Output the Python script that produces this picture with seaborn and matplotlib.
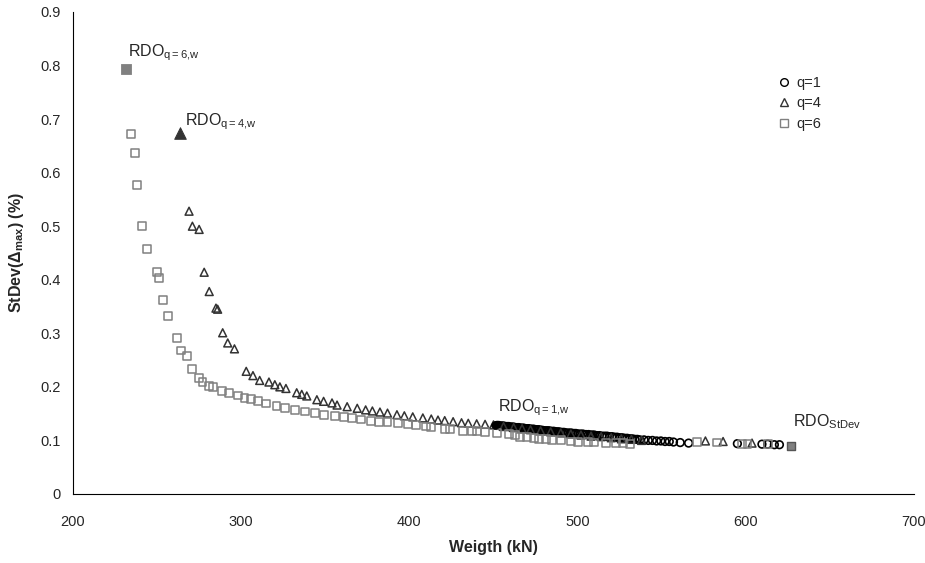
import matplotlib
matplotlib.use("Agg")
import matplotlib.pyplot as plt
from matplotlib.lines import Line2D
import seaborn as sns

# ---------------- data ----------------
q1_x = [452, 453, 454, 455, 456, 457, 458, 459, 460, 461, 462, 463, 464, 465,
        466, 467, 468, 469, 470, 471, 472, 473, 474, 475, 476, 477, 478, 479,
        480, 481, 482, 483, 484, 485, 486, 487, 488, 489, 490, 491, 492, 493,
        494.5, 496, 497, 498, 499, 500, 501.5, 503, 504, 505, 506.5, 508, 509,
        510, 511.5, 513, 514.5, 516, 517.5, 519, 520.5, 522, 523.5, 525, 526.5,
        528, 529.5, 531, 532.5, 534, 535.5, 537, 539.5, 542, 544.5, 547, 549.5,
        552, 554.5, 557, 561, 566, 595, 609.6, 613, 617, 620]
q1_y = [0.128, 0.128, 0.127, 0.127, 0.127, 0.126, 0.126, 0.126, 0.125, 0.125,
        0.125, 0.124, 0.124, 0.124, 0.123, 0.123, 0.123, 0.122, 0.122, 0.122,
        0.121, 0.121, 0.121, 0.120, 0.120, 0.120, 0.119, 0.119, 0.118, 0.118,
        0.118, 0.118, 0.117, 0.117, 0.117, 0.116, 0.116, 0.116, 0.115, 0.115,
        0.115, 0.114, 0.114, 0.114, 0.113, 0.113, 0.113, 0.112, 0.112, 0.112,
        0.111, 0.111, 0.111, 0.110, 0.110, 0.110, 0.109, 0.109, 0.108, 0.108,
        0.108, 0.107, 0.107, 0.106, 0.106, 0.105, 0.105, 0.104, 0.104, 0.103,
        0.103, 0.102, 0.102, 0.101, 0.101, 0.100, 0.100, 0.099, 0.099, 0.098,
        0.098, 0.097, 0.096, 0.095, 0.094, 0.093, 0.093, 0.092, 0.092]

q4_x = [269, 271, 275, 278, 281, 285, 286, 289, 292, 296, 303, 307, 311, 316.5,
        320, 323, 326.6, 333, 336, 339, 345, 349, 354, 357, 363, 369, 374, 378,
        382.5, 387, 392.6, 397, 402, 408, 413, 417, 421, 426, 431, 435, 440,
        445, 450, 456, 462, 467, 472, 478, 484, 490, 496, 502, 508, 514, 520,
        526, 532, 538, 576, 586.5, 603.7]
q4_y = [0.528, 0.500, 0.494, 0.414, 0.378, 0.347, 0.345, 0.301, 0.282, 0.271,
        0.229, 0.221, 0.212, 0.209, 0.204, 0.200, 0.197, 0.189, 0.186, 0.183,
        0.176, 0.173, 0.170, 0.166, 0.163, 0.160, 0.157, 0.155, 0.153, 0.151,
        0.148, 0.146, 0.144, 0.142, 0.140, 0.138, 0.137, 0.135, 0.133, 0.132,
        0.131, 0.130, 0.129, 0.126, 0.124, 0.122, 0.120, 0.118, 0.116, 0.114,
        0.112, 0.110, 0.108, 0.107, 0.105, 0.103, 0.102, 0.100, 0.099, 0.098,
        0.095]

q6_x = [234.5, 236.9, 238, 241, 244, 250, 251, 253.5, 256.5, 262, 264, 268, 271,
        275, 277, 281, 283, 288.6, 293, 298, 302, 306, 310, 315, 321, 326, 332,
        338, 344, 349, 356, 361, 366, 371, 377, 382, 387, 393, 399, 404, 410,
        413, 421, 424, 432, 437, 440, 445, 452, 459, 463, 466, 470, 474, 477,
        481, 485, 490, 496, 500, 506, 510, 517, 523, 527, 531, 571, 583, 598,
        601, 613]
q6_y = [0.672, 0.637, 0.577, 0.500, 0.457, 0.415, 0.403, 0.362, 0.332, 0.292,
        0.268, 0.258, 0.234, 0.217, 0.209, 0.201, 0.200, 0.193, 0.189, 0.184,
        0.180, 0.177, 0.173, 0.169, 0.164, 0.160, 0.157, 0.154, 0.151, 0.148,
        0.146, 0.144, 0.142, 0.139, 0.137, 0.135, 0.134, 0.133, 0.131, 0.129,
        0.126, 0.125, 0.122, 0.121, 0.118, 0.117, 0.117, 0.116, 0.114, 0.112,
        0.110, 0.107, 0.106, 0.105, 0.103, 0.102, 0.101, 0.100, 0.098, 0.097,
        0.097, 0.096, 0.095, 0.095, 0.095, 0.094, 0.097, 0.096, 0.094, 0.094,
        0.093]

# highlighted optima
rdo_q1_w = (451, 0.128)
rdo_q4_w = (263.6, 0.674)
rdo_q6_w = (231.5, 0.794)
rdo_stdev = (627, 0.090)

series_labels = ["q=1", "q=4", "q=6"]
x_ticks = [200, 300, 400, 500, 600, 700]
y_ticks = [0, 0.1, 0.2, 0.3, 0.4, 0.5, 0.6, 0.7, 0.8, 0.9]

# ---------------- style ----------------
sns.set_theme(style="white")
plt.rcParams["font.family"] = ["Liberation Sans", "DejaVu Sans"]
plt.rcParams["mathtext.fontset"] = "custom"
plt.rcParams["mathtext.rm"] = "Liberation Sans"
plt.rcParams["mathtext.it"] = "Liberation Sans:italic"
plt.rcParams["mathtext.bf"] = "Liberation Sans:bold"

fig = plt.figure(figsize=(9.25, 5.63), dpi=100)
ax = fig.add_axes([0.0789, 0.1226, 0.9092, 0.8561])

C1, C4, C6 = "#000000", "#333333", "#808080"

sns.scatterplot(x=q1_x, y=q1_y, ax=ax, marker="o", s=30, facecolor="none",
                edgecolor=C1, linewidth=1.2, legend=False, zorder=3)
sns.scatterplot(x=q4_x, y=q4_y, ax=ax, marker="^", s=32, facecolor="none",
                edgecolor=C4, linewidth=1.1, legend=False, zorder=3)
sns.scatterplot(x=q6_x, y=q6_y, ax=ax, marker="s", s=32, facecolor="none",
                edgecolor=C6, linewidth=1.1, legend=False, zorder=3)

sns.scatterplot(x=[rdo_q1_w[0]], y=[rdo_q1_w[1]], ax=ax, marker="o", s=32,
                color=C1, edgecolor=C1, legend=False, zorder=4)
sns.scatterplot(x=[rdo_q4_w[0]], y=[rdo_q4_w[1]], ax=ax, marker="^", s=70,
                color=C4, edgecolor=C4, legend=False, zorder=4)
sns.scatterplot(x=[rdo_q6_w[0]], y=[rdo_q6_w[1]], ax=ax, marker="s", s=55,
                color=C6, edgecolor=C6, legend=False, zorder=4)
sns.scatterplot(x=[rdo_stdev[0]], y=[rdo_stdev[1]], ax=ax, marker="s", s=32,
                color=C6, edgecolor="#555555", linewidth=1.0, legend=False, zorder=4)

# annotations
ann_fs = 11.5
ax.text(232.5, 0.818, r"RDO$_{\mathrm{q{=}6{,}w}}$", fontsize=ann_fs, ha="left", va="baseline")
ax.text(266.5, 0.689, r"RDO$_{\mathrm{q{=}4{,}w}}$", fontsize=ann_fs, ha="left", va="baseline")
ax.text(452.5, 0.1537, r"RDO$_{\mathrm{q{=}1{,}w}}$", fontsize=ann_fs, ha="left", va="baseline")
ax.text(628.0, 0.1257, r"RDO$_{\mathrm{StDev}}$", fontsize=ann_fs, ha="left", va="baseline")

# axes
ax.set_xlim(200, 700)
ax.set_ylim(0, 0.9)
ax.set_xticks(x_ticks)
ax.set_yticks(y_ticks)
ax.set_xticklabels([str(v) for v in x_ticks])
ax.set_yticklabels(["0"] + [f"{v:.1f}" for v in y_ticks[1:]])
ax.tick_params(axis="both", which="both", direction="out", length=5, width=0.8,
               color="#000000", labelsize=10.5, pad=4)
ax.tick_params(axis="x", pad=10)
for side in ["top", "right"]:
    ax.spines[side].set_visible(False)
for side in ["left", "bottom"]:
    ax.spines[side].set_color("#000000")
    ax.spines[side].set_linewidth(0.8)

ax.set_xlabel("Weigth (kN)", fontsize=11.5, fontweight="bold", labelpad=8)
ax.set_ylabel(r"StDev($\mathbf{\Delta}_{\mathbf{max}}$) (%)", fontsize=11.5,
              fontweight="bold", labelpad=10)

handles = [
    Line2D([], [], linestyle="none", marker="o", markersize=5.5,
           markerfacecolor="none", markeredgecolor=C1, markeredgewidth=1.0),
    Line2D([], [], linestyle="none", marker="^", markersize=6,
           markerfacecolor="none", markeredgecolor=C4, markeredgewidth=1.0),
    Line2D([], [], linestyle="none", marker="s", markersize=5.5,
           markerfacecolor="none", markeredgecolor=C6, markeredgewidth=1.0),
]
ax.legend(handles, series_labels, loc="upper left", bbox_to_anchor=(0.832, 0.88),
          frameon=False, fontsize=10.5, handlelength=0.8, handletextpad=0.4,
          labelspacing=0.45, borderaxespad=0)

fig.savefig("out.png", dpi=100)
